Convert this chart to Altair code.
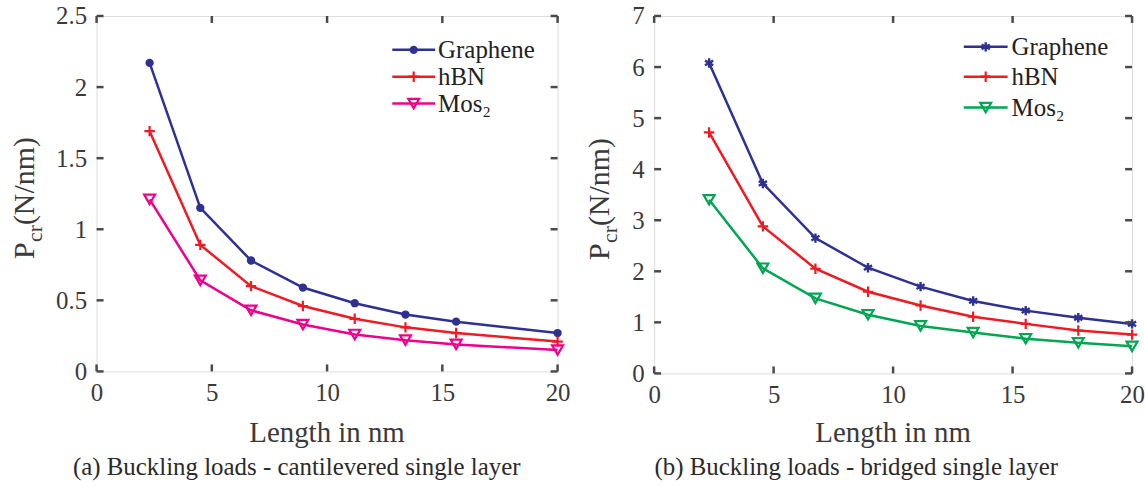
import altair as alt
import pandas as pd

# ---------------- data ----------------
series_names = ["Graphene", "hBN", "MoS2"]

xa = [2.3, 4.5, 6.7, 8.95, 11.2, 13.4, 15.6, 20]
ga = [2.17, 1.15, 0.78, 0.59, 0.48, 0.40, 0.35, 0.27]
ha = [1.69, 0.89, 0.60, 0.46, 0.37, 0.31, 0.27, 0.21]
ma = [1.21, 0.64, 0.43, 0.33, 0.26, 0.22, 0.19, 0.15]

xb = [2.3, 4.55, 6.75, 8.95, 11.15, 13.35, 15.55, 17.75, 20]
gb = [6.08, 3.72, 2.65, 2.07, 1.70, 1.42, 1.23, 1.09, 0.97]
hb = [4.72, 2.88, 2.05, 1.60, 1.33, 1.11, 0.97, 0.84, 0.76]
mb = [3.40, 2.06, 1.47, 1.15, 0.93, 0.80, 0.68, 0.60, 0.53]

xticks = [0, 5, 10, 15, 20]
yticks_a = [0, 0.5, 1, 1.5, 2, 2.5]
yticks_b = [0, 1, 2, 3, 4, 5, 6, 7]

legend_labels = ["Graphene", "hBN", "Mos\u2082"]
caption_a = "(a) Buckling loads - cantilevered single layer"
caption_b = "(b) Buckling loads - bridged single layer"
xtitle = "Length in nm"

# ---------------- style ----------------
FONT = "Liberation Serif"
FRAME = "#4a4a4a"
TXT = "#3a3a3a"
BLUE = "#2E3192"
RED = "#ED1C24"
MAGENTA = "#EC008C"
GREEN = "#00A651"

CIRCLE = "circle"
STAR = "M0,-1L0,1M-0.866,-0.5L0.866,0.5M-0.866,0.5L0.866,-0.5"
PLUS = "M-1,0L1,0M0,-1L0,1"
TRI = "triangle-down"


def marker(data, shp, col):
    if shp == CIRCLE:
        return alt.Chart(data).mark_point(shape=shp, filled=True, color=col, size=70, opacity=1)
    if shp == TRI:
        return alt.Chart(data).mark_point(shape=shp, filled=False, color=col, size=120,
                                          strokeWidth=2.2, opacity=1)
    if shp == STAR:
        return alt.Chart(data).mark_point(shape=shp, filled=False, color=col, size=90,
                                          strokeWidth=2.4, opacity=1)
    return alt.Chart(data).mark_point(shape=shp, filled=False, color=col, size=110,
                                      strokeWidth=2.2, opacity=1)


def panel(xs, ys_list, colors, shapes, ymax, yticks, W, H, legend_pos, ytitle_pos,
          caption, caption_pos, xtitle_y):
    xsc = alt.Scale(domain=[0, 20], nice=False)
    ysc = alt.Scale(domain=[0, ymax], nice=False)
    layers = []
    first = True
    for name, ys, col, shp in zip(series_names, ys_list, colors, shapes):
        df = pd.DataFrame({"x": xs, "y": ys})
        if first:
            xenc = alt.X("x:Q", scale=xsc,
                         axis=alt.Axis(values=xticks, domain=False, ticks=False, grid=False,
                                       labelFont=FONT, labelFontSize=25, labelColor=TXT,
                                       labelFlush=False, labelPadding=9, format="~g",
                                       title=None))
            yenc = alt.Y("y:Q", scale=ysc,
                         axis=alt.Axis(values=yticks, domain=False, ticks=False, grid=False,
                                       labelFont=FONT, labelFontSize=25, labelColor=TXT,
                                       labelFlush=False, labelPadding=10, format="~g",
                                       title=None))
            first = False
        else:
            xenc = alt.X("x:Q", scale=xsc)
            yenc = alt.Y("y:Q", scale=ysc)
        line = alt.Chart(df).mark_line(color=col, strokeWidth=2.5).encode(x=xenc, y=yenc)
        layers += [line, marker(df, shp, col).encode(x="x:Q", y="y:Q")]

    # inward ticks on all four sides
    tx = pd.DataFrame({"t": xticks})
    ty = pd.DataFrame({"t": yticks})
    layers += [
        alt.Chart(tx).mark_rule(color=FRAME, strokeWidth=2.5).encode(
            x="t:Q", y=alt.value(H), y2=alt.value(H - 7)),
        alt.Chart(tx).mark_rule(color=FRAME, strokeWidth=2.5).encode(
            x="t:Q", y=alt.value(0), y2=alt.value(7)),
        alt.Chart(ty).mark_rule(color=FRAME, strokeWidth=2.5).encode(
            y="t:Q", x=alt.value(0), x2=alt.value(7)),
        alt.Chart(ty).mark_rule(color=FRAME, strokeWidth=2.5).encode(
            y="t:Q", x=alt.value(W), x2=alt.value(W - 7)),
    ]

    one = pd.DataFrame({"a": [0]})

    # legend
    lx0, lx1, tx0, ly = legend_pos
    for lab, col, shp, yy in zip(legend_labels, colors, shapes, ly):
        layers.append(alt.Chart(one).mark_rule(color=col, strokeWidth=2.5).encode(
            x=alt.value(lx0), x2=alt.value(lx1), y=alt.value(yy)))
        layers.append(marker(one, shp, col).encode(x=alt.value((lx0 + lx1) / 2),
                                                   y=alt.value(yy)))
        layers.append(alt.Chart(one).mark_text(
            font=FONT, fontSize=25, color="#222222", align="left", baseline="middle").encode(
            x=alt.value(tx0), y=alt.value(yy), text=alt.value(lab)))

    # y title with subscript
    bx, sx, py, cy, ny = ytitle_pos
    layers += [
        alt.Chart(one).mark_text(font=FONT, fontSize=30, color=TXT, angle=270,
                                 align="left", baseline="alphabetic").encode(
            x=alt.value(bx), y=alt.value(py), text=alt.value("P")),
        alt.Chart(one).mark_text(font=FONT, fontSize=22, color=TXT, angle=270,
                                 align="left", baseline="alphabetic").encode(
            x=alt.value(sx), y=alt.value(cy), text=alt.value("cr")),
        alt.Chart(one).mark_text(font=FONT, fontSize=30, color=TXT, angle=270,
                                 align="left", baseline="alphabetic").encode(
            x=alt.value(bx), y=alt.value(ny), text=alt.value("(N/nm)")),
    ]
    # x title
    layers.append(alt.Chart(one).mark_text(font=FONT, fontSize=29, color=TXT,
                                           align="center", baseline="alphabetic").encode(
        x=alt.value(W / 2), y=alt.value(xtitle_y), text=alt.value(xtitle)))
    # caption
    cxp, cyp = caption_pos
    layers.append(alt.Chart(one).mark_text(font=FONT, fontSize=25, color="#2a2a2a",
                                           align="center", baseline="alphabetic").encode(
        x=alt.value(cxp), y=alt.value(cyp), text=alt.value(caption)))

    return alt.layer(*layers).properties(width=W, height=H)


left = panel(xa, [ga, ha, ma], [BLUE, RED, MAGENTA], [CIRCLE, PLUS, TRI], 2.5, yticks_a,
             463, 357,
             legend_pos=(297, 340, 343, [34, 61, 88]),
             ytitle_pos=(-63, -55, 244, 227, 210),
             caption=caption_a, caption_pos=(201, 461), xtitle_y=428)

right = panel(xb, [gb, hb, mb], [BLUE, RED, GREEN], [STAR, PLUS, TRI], 7, yticks_b,
              480, 359,
              legend_pos=(311, 355, 359, [31, 61, 92]),
              ytitle_pos=(-45, -37, 245, 228, 211),
              caption=caption_b, caption_pos=(203, 461), xtitle_y=428)

chart = alt.hconcat(left, right, spacing=14).properties(
    padding={"left": 9, "top": 2, "right": 0, "bottom": 0}
).configure_view(stroke=FRAME, strokeWidth=3).configure(background="white")

chart.save("out.html", embed_options={"renderer": "svg", "actions": False})
